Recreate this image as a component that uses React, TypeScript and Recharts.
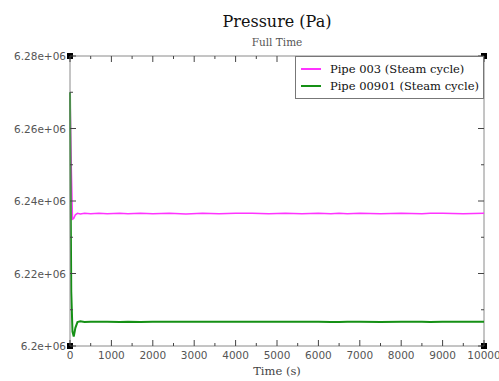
import { LineChart, Line, XAxis, YAxis, ReferenceDot, ReferenceLine } from 'recharts';

// time axis (s)
const times = [0, 30, 60, 90, 130, 180, 250, 350, 500, 700, 900, 1200, 1400, 1700, 2000, 2400, 2800, 3200, 3600, 4000, 4400, 4800, 5200, 5600, 6000, 6300, 6500, 6700, 7000, 7500, 8000, 8500, 8700, 9000, 9500, 10000];
const pipe003 = [6.270e6, 6.2500e6, 6.2350e6, 6.2352e6, 6.2362e6, 6.2366e6, 6.2364e6, 6.2366e6, 6.2365e6, 6.2366e6, 6.2365e6, 6.2366e6, 6.2365e6, 6.2366e6, 6.2365e6, 6.2366e6, 6.2364e6, 6.2366e6, 6.2365e6, 6.2366e6, 6.2366e6, 6.2365e6, 6.2366e6, 6.2365e6, 6.2366e6, 6.2365e6, 6.2366e6, 6.2365e6, 6.2366e6, 6.2365e6, 6.2366e6, 6.2365e6, 6.2366e6, 6.2366e6, 6.2365e6, 6.2366e6];
const pipe00901 = [6.270e6, 6.2150e6, 6.2040e6, 6.2026e6, 6.2050e6, 6.2066e6, 6.2068e6, 6.2066e6, 6.2067e6, 6.2067e6, 6.2067e6, 6.2066e6, 6.2067e6, 6.2066e6, 6.2067e6, 6.2067e6, 6.2067e6, 6.2067e6, 6.2067e6, 6.2067e6, 6.2067e6, 6.2067e6, 6.2067e6, 6.2067e6, 6.2067e6, 6.2066e6, 6.2066e6, 6.2067e6, 6.2067e6, 6.2066e6, 6.2067e6, 6.2067e6, 6.2066e6, 6.2067e6, 6.2067e6, 6.2067e6];

const xTicks = [0, 500, 1000, 1500, 2000, 2500, 3000, 3500, 4000, 4500, 5000, 5500, 6000, 6500, 7000, 7500, 8000, 8500, 9000, 9500, 10000];
const yTicks = [6.2e6, 6.21e6, 6.22e6, 6.23e6, 6.24e6, 6.25e6, 6.26e6, 6.27e6, 6.28e6];
const yLabels: Record<number, string> = {
  6200000: '6.2e+06',
  6220000: '6.22e+06',
  6240000: '6.24e+06',
  6260000: '6.26e+06',
  6280000: '6.28e+06',
};

const data = times.map((t, i) => ({ t, p003: pipe003[i], p00901: pipe00901[i] }));

const series = [
  { key: 'p003', name: 'Pipe 003 (Steam cycle)', color: '#ff33ff', width: 1.5 },
  { key: 'p00901', name: 'Pipe 00901 (Steam cycle)', color: '#159015', width: 2 },
];

// plot box edges (px)
const LEFT = 70;
const RIGHT = 484;
const TOP = 56;
const BOTTOM = 346;

const axisGray = '#8a8a8a';
const labelGray = '#555';

const XTick = ({ x, payload }: any) => {
  const major = payload.value % 1000 === 0;
  return (
    <g>
      <line x1={x} x2={x} y1={BOTTOM} y2={BOTTOM - (major ? 6 : 3)} stroke="#444" />
      <line x1={x} x2={x} y1={TOP} y2={TOP + (major ? 6 : 3)} stroke="#444" />
      {major && (
        <text x={x} y={BOTTOM + 13} textAnchor="middle" fontSize={10.5} fill={labelGray} fontFamily="DejaVu Sans">
          {payload.value}
        </text>
      )}
    </g>
  );
};

const YTick = ({ y, payload }: any) => {
  const label = yLabels[Math.round(payload.value)];
  return (
    <g>
      <line x1={LEFT} x2={LEFT + (label ? 6 : 3)} y1={y} y2={y} stroke="#444" />
      <line x1={RIGHT} x2={RIGHT - (label ? 6 : 3)} y1={y} y2={y} stroke="#444" />
      {label && (
        <text x={LEFT - 4} y={y + 4} textAnchor="end" fontSize={10.5} fill={labelGray} fontFamily="DejaVu Sans">
          {label}
        </text>
      )}
    </g>
  );
};

const LegendBox = () => (
  <div
    style={{
      position: 'absolute',
      top: TOP,
      right: 499 - RIGHT,
      border: '1px solid #777',
      background: '#fff',
      padding: '3px 4px 4px 5px',
      fontFamily: 'DejaVu Serif',
      fontSize: 11.5,
      color: '#111',
      whiteSpace: 'nowrap',
    }}
  >
    {series.map((s) => (
      <div key={s.key} style={{ display: 'flex', alignItems: 'center', height: 17 }}>
        <span style={{ display: 'inline-block', width: 20, height: 0, borderTop: `2px solid ${s.color}`, marginRight: 9 }} />
        {s.name}
      </div>
    ))}
  </div>
);

const Square = (props: any) => <rect x={props.cx - 3} y={props.cy - 3} width={6} height={6} fill="#000" />;

export default function App() {
  return (
    <div style={{ position: 'fixed', left: 0, top: 0, width: 499, height: 381, background: '#fff' }}>
      <LineChart width={499} height={381} data={data} margin={{ top: TOP, right: 499 - RIGHT, left: 0, bottom: 5 }}>
        <text x={277} y={27} textAnchor="middle" fontSize={16} fontFamily="DejaVu Serif" fill="#111">
          Pressure (Pa)
        </text>
        <text x={277} y={46} textAnchor="middle" fontSize={10.5} fontFamily="DejaVu Serif" fill="#555">
          Full Time
        </text>
        <text x={277} y={375} textAnchor="middle" fontSize={11.5} fontFamily="DejaVu Serif" fill="#444">
          Time (s)
        </text>
        <XAxis
          dataKey="t"
          type="number"
          domain={[0, 10000]}
          ticks={xTicks}
          interval={0}
          tickLine={false}
          tick={<XTick />}
          axisLine={{ stroke: axisGray }}
          height={30}
        />
        <YAxis
          type="number"
          domain={[6.2e6, 6.28e6]}
          ticks={yTicks}
          interval={0}
          tickLine={false}
          tick={<YTick />}
          axisLine={{ stroke: axisGray }}
          width={LEFT}
        />
        <ReferenceLine y={6.28e6} stroke={axisGray} />
        <ReferenceLine x={10000} stroke={axisGray} />
        {series.map((s) => (
          <Line
            key={s.key}
            type="linear"
            dataKey={s.key}
            name={s.name}
            stroke={s.color}
            strokeWidth={s.width}
            dot={false}
            isAnimationActive={false}
          />
        ))}
        <ReferenceDot x={0} y={6.28e6} shape={<Square />} />
        <ReferenceDot x={10000} y={6.28e6} shape={<Square />} />
        <ReferenceDot x={0} y={6.2e6} shape={<Square />} />
        <ReferenceDot x={10000} y={6.2e6} shape={<Square />} />
      </LineChart>
      <LegendBox />
    </div>
  );
}
